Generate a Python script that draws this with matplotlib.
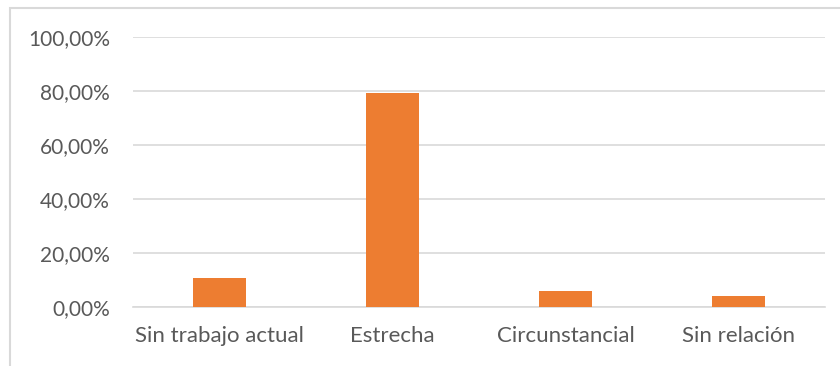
import matplotlib.pyplot as plt
from matplotlib.patches import Rectangle

categories = ["Sin trabajo actual", "Estrecha", "Circunstancial", "Sin relación"]
values = [0.1085, 0.791, 0.058, 0.0395]
y_ticks = [0.0, 0.2, 0.4, 0.6, 0.8, 1.0]
y_labels = ["0,00%", "20,00%", "40,00%", "60,00%", "80,00%", "100,00%"]

BAR_COLOR = "#ED7D31"
GRID_COLOR = "#D9D9D9"
TEXT_COLOR = "#595959"

plt.rcParams["font.family"] = ["Lato", "DejaVu Sans"]

W, H = 840, 366
fig = plt.figure(figsize=(W / 100, H / 100), dpi=100)

# outer chart frame (runs off the right and bottom edges)
fig.patches.append(Rectangle((10 / W, -0.05), 1.0, 1 - 7.5 / H + 0.05,
                             transform=fig.transFigure, fill=False,
                             edgecolor=GRID_COLOR, linewidth=1.5))

ax = fig.add_axes([133 / W, (H - 307) / H, (825 - 133) / W, (307 - 37) / H])
x = range(len(categories))
ax.bar(x, values, width=0.31, color=BAR_COLOR, zorder=3)

ax.set_xlim(-0.5, len(categories) - 0.5)
ax.set_ylim(0, 1.0)
ax.set_yticks(y_ticks)
ax.set_yticklabels(y_labels)
ax.set_xticks(list(x))
ax.set_xticklabels(categories)
ax.tick_params(axis="y", length=0, labelsize=15, colors=TEXT_COLOR, pad=16.5)
ax.tick_params(axis="x", length=0, labelsize=16, colors=TEXT_COLOR, pad=14)
ax.grid(axis="y", color=GRID_COLOR, linewidth=1.2, zorder=0)
for side in ["top", "right", "left"]:
    ax.spines[side].set_visible(False)
ax.spines["bottom"].set_color(GRID_COLOR)
ax.spines["bottom"].set_linewidth(1.2)

fig.savefig("out.png", dpi=100)
